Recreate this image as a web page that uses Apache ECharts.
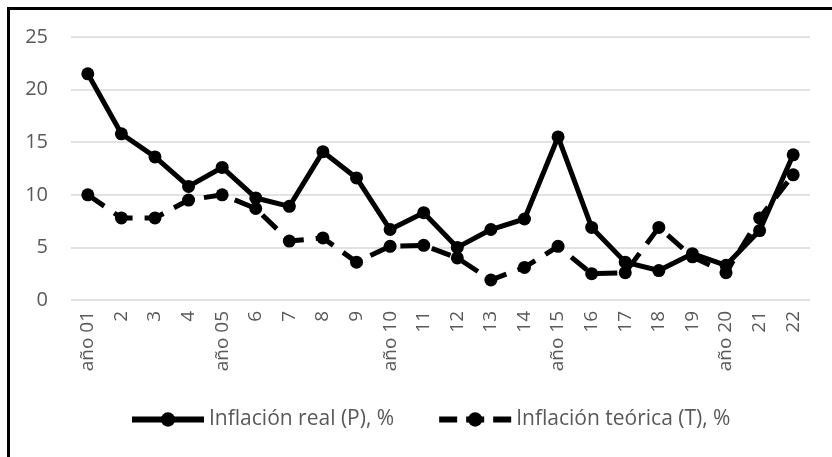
<!DOCTYPE html>
<html>
<head>
<meta charset="utf-8">
<script src="https://cdn.jsdelivr.net/npm/echarts@6/dist/echarts.min.js"></script>
<style>
  html, body { margin: 0; padding: 0; background: #fff; }
  #frame { position: absolute; left: 7px; top: 7px; width: 840px; height: 470px;
           border-left: 3px solid #000; border-top: 3px solid #000; }
  #chart { position: absolute; left: 0; top: 0; width: 832px; height: 457px; }
</style>
</head>
<body>
<div id="frame"></div>
<div id="chart"></div>
<script>
const categories = ['año 01', '2', '3', '4', 'año 05', '6', '7', '8', '9', 'año 10', '11',
    '12', '13', '14', 'año 15', '16', '17', '18', '19', 'año 20', '21', '22'];
const realValues = [21.5, 15.8, 13.6, 10.8, 12.6, 9.7, 8.9, 14.1, 11.6, 6.7, 8.3,
    5.0, 6.7, 7.7, 15.5, 6.9, 3.6, 2.8, 4.4, 3.3, 6.6, 13.8];
const theoryValues = [10.0, 7.8, 7.8, 9.5, 10.0, 8.7, 5.6, 5.9, 3.6, 5.1, 5.2,
    4.0, 1.9, 3.1, 5.1, 2.5, 2.6, 6.9, 4.1, 2.6, 7.8, 11.9];
const yTicks = [0, 5, 10, 15, 20, 25];

const font = "'Open Sans', sans-serif";
const grey = '#595959';

const chart = echarts.init(document.getElementById('chart'));
chart.setOption({
    animation: false,
    textStyle: { fontFamily: font },
    grid: { left: 71, right: 22, top: 37, bottom: 157 },
    legend: {
        top: 404,
        left: 124,
        itemWidth: 72,
        itemHeight: 18,
        itemGap: 42,
        textStyle: { color: grey, fontSize: 21, fontFamily: font },
        data: [
            { name: 'Inflación real (P), %', lineStyle: { width: 6 } },
            { name: 'Inflación teórica (T), %', lineStyle: { width: 6, type: [18, 9] } }
        ]
    },
    xAxis: {
        type: 'category',
        data: categories,
        boundaryGap: true,
        axisLine: { show: false },
        axisTick: { show: false },
        axisLabel: { rotate: 90, color: grey, fontSize: 19, margin: 11, interval: 0 }
    },
    yAxis: {
        type: 'value',
        min: yTicks[0],
        max: yTicks[yTicks.length - 1],
        interval: 5,
        axisLine: { show: false },
        axisTick: { show: false },
        axisLabel: { color: grey, fontSize: 20, margin: 23 },
        splitLine: { lineStyle: { color: '#d9d9d9', width: 1.5 } }
    },
    series: [
        {
            name: 'Inflación real (P), %',
            type: 'line',
            data: realValues,
            symbol: 'circle',
            symbolSize: 13,
            itemStyle: { color: '#000' },
            lineStyle: { color: '#000', width: 5 }
        },
        {
            name: 'Inflación teórica (T), %',
            type: 'line',
            data: theoryValues,
            symbol: 'circle',
            symbolSize: 13,
            itemStyle: { color: '#000' },
            lineStyle: { color: '#000', width: 5, type: [20, 12] }
        }
    ]
});
</script>
</body>
</html>
